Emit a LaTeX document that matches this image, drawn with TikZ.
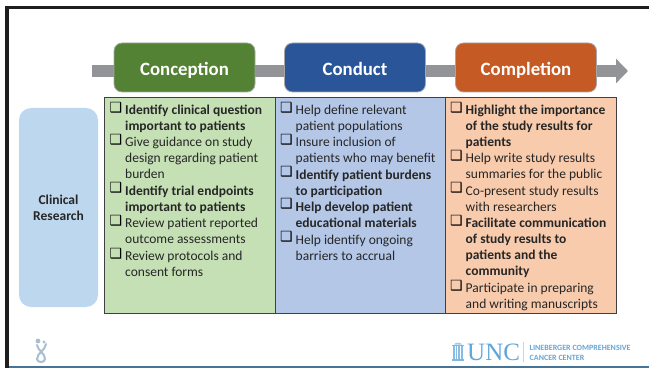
\documentclass[tikz,border=0pt]{standalone}
\usepackage{fontspec}
\setmainfont{Carlito}
\newfontfamily\boxfont{DejaVu Sans}
\newfontfamily\logofont{Liberation Serif}
\usetikzlibrary{arrows.meta}
\definecolor{frameK}{HTML}{1E1E1E}
\definecolor{flowgray}{HTML}{929497}
\definecolor{hgreen}{HTML}{548235}
\definecolor{hblue}{HTML}{2A5699}
\definecolor{horange}{HTML}{C55A25}
\definecolor{pgreen}{HTML}{C5E0B4}
\definecolor{pblue}{HTML}{B4C7E7}
\definecolor{porange}{HTML}{F8CBAD}
\definecolor{sidebl}{HTML}{BDD7EE}
\definecolor{unc}{HTML}{62A6D8}
\definecolor{txt}{HTML}{262626}
\definecolor{figblue}{HTML}{A9BDD3}
\tikzset{
  phase/.style={draw=gray!70,line width=0.8pt,rounded corners=8pt,minimum width=141pt,minimum height=49pt,inner sep=0pt,text=white,text height=18pt,text depth=1pt,font=\fontsize{18.8}{20}\selectfont\bfseries},
  panel/.style={draw=black!75,line width=0.9pt,minimum width=170.5pt,minimum height=216pt,inner sep=0pt},
  itemtext/.style={anchor=north west,inner sep=0pt,align=left,text=txt,font=\fontsize{13.5}{16}\selectfont},
  tick/.style={anchor=center,inner sep=0pt,text=black,font=\fontsize{14}{14}\boxfont},
  side/.style={fill=sidebl,rounded corners=12pt,minimum width=79pt,minimum height=199pt,inner sep=0pt,align=center,text=txt,font=\fontsize{13.5}{16}\selectfont\bfseries},
  logotext/.style={anchor=west,inner sep=0pt,text=unc,font=\fontsize{8}{9}\selectfont\bfseries},
}
\newcommand{\chk}[4]{% name, x of panel text, y of first line, text
  \node[tick] (#1b) at (#2-9,#3+2.5) {❑};
  \node[itemtext] (#1) at (#2,#3) {#4};
}
\begin{document}
\begin{tikzpicture}[x=1pt,y=-1pt]
\useasboundingbox (0,0) rectangle (649,369);
% frame
\fill[frameK] (5,6) rectangle (649,8.8);
\fill[frameK] (5,6) rectangle (8.5,367.5);
\fill[unc!70!black] (8.5,366) rectangle (649,367.6);
% flow arrow
\coordinate (flowstart) at (92,71);
\coordinate (flowend) at (628,71);
\draw[flowgray,line width=12pt,-{Triangle[length=12pt,width=24pt]}] (flowstart) -- (flowend);
% phases
\node[phase,fill=hgreen] (conception) at (184.5,67.5) {Conception};
\node[phase,fill=hblue] (conduct) at (355,67.5) {Conduct};
\node[phase,fill=horange] (completion) at (526,67.5) {Completion};
% side
\node[side] (clinical) at (58.5,207.5) {\raisebox{-1pt}{Clinical}\\[0pt]\raisebox{-1pt}{Research}};
% panels
\node[panel,fill=pgreen] (pa) at (190,205) {};
\node[panel,fill=pblue] (pb) at (360.5,205) {};
\node[panel,fill=porange] (pc) at (531,205) {};
% column 1
\chk{a1}{125}{105}{\textbf{Identify clinical question}\\\textbf{important to patients}}
\chk{a2}{125}{137}{Give guidance on study\\design regarding patient\\burden}
\chk{a3}{125}{185.5}{\textbf{Identify trial endpoints}\\\textbf{important to patients}}
\chk{a4}{125}{218}{Review patient reported\\outcome assessments}
\chk{a5}{125}{251}{Review protocols and\\consent forms}
% column 2
\chk{b1}{295.5}{105}{Help define relevant\\patient populations}
\chk{b2}{295.5}{137}{Insure inclusion of\\patients who may benefit}
\chk{b3}{295.5}{169.5}{\textbf{Identify patient burdens}\\\textbf{to participation}}
\chk{b4}{295.5}{201.5}{\textbf{Help develop patient}\\\textbf{educational materials}}
\chk{b5}{295.5}{234.5}{Help identify ongoing\\barriers to accrual}
% column 3
\chk{c1}{465.5}{105}{\textbf{Highlight the importance}\\\textbf{of the study results for}\\\textbf{patients}}
\chk{c2}{465.5}{153}{Help write study results\\summaries for the public}
\chk{c3}{465.5}{185.5}{Co-present study results\\with researchers}
\chk{c4}{465.5}{218}{\textbf{Facilitate communication}\\\textbf{of study results to}\\\textbf{patients and the}\\\textbf{community}}
\chk{c5}{465.5}{283}{Participate in preparing\\and writing manuscripts}
% UNC logo
\fill[unc!80] (452,344.5) rectangle (464,346);
\fill[unc!80] (452,359) rectangle (464,361);
\foreach \px in {453,455.6,458.2,460.8} \fill[unc!75] (\px,346) rectangle (\px+1.8,359);
\fill[unc!60] (454,344.5) .. controls (455,342) and (461,342) .. (462,344.5) -- cycle;
\node[anchor=west,inner sep=0pt,text=unc,font=\fontsize{25}{26}\logofont] (unclogo) at (467,352.5) {UNC};
\draw[unc!40,line width=0.5pt] (523.5,342) -- (523.5,362);
\node[logotext] (lcc1) at (529.5,347.5) {LINEBERGER COMPREHENSIVE};
\node[logotext] (lcc2) at (529.5,357.5) {CANCER CENTER};
% small figure
\draw[figblue,line width=2pt,line cap=round] (37,345) .. controls (38,351) and (45,353) .. (45,359) .. controls (45,363) and (37,363) .. (37,359) .. controls (37,353) and (45,351) .. (46,344);
\fill[figblue] (38,341) circle (2.4pt);
\fill[figblue] (44,342) circle (1.6pt);
\end{tikzpicture}
\end{document}
